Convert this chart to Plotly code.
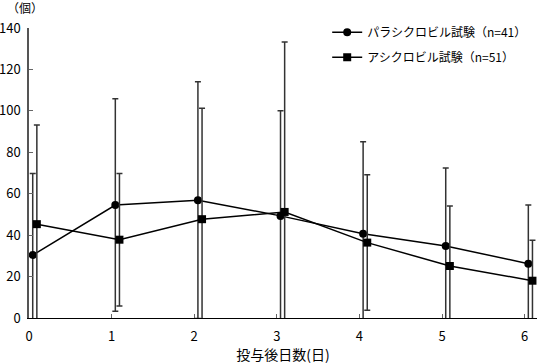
import plotly.graph_objects as go

days = [0, 1, 2, 3, 4, 5, 6]
para_mean = [30.4, 54.5, 56.9, 49.3, 40.7, 34.8, 26.2]
para_sd = [39.4, 51.3, 57.2, 50.7, 44.4, 37.6, 28.3]
acy_mean = [45.3, 37.8, 47.7, 51.2, 36.4, 25.1, 18.0]
acy_sd = [47.9, 32.0, 53.6, 82.0, 32.7, 29.0, 19.5]
para_name = "パラシクロビル試験（n=41）"
acy_name = "アシクロビル試験（n=51）"
x_title = "投与後日数(日)"
y_title = "（個）"

font = "Noto Sans CJK JP"

fig = go.Figure()
fig.add_trace(go.Scatter(
    x=[d + 0.045 for d in days], y=para_mean, name=para_name,
    mode="lines+markers", legendgroup="a",
    line=dict(color="black", width=1.5),
    marker=dict(symbol="circle", size=8, color="black"),
    error_y=dict(type="data", array=para_sd, symmetric=True,
                 color="#333333", thickness=1.5, width=3),
))
fig.add_trace(go.Scatter(
    x=[d + 0.095 for d in days], y=acy_mean, name=acy_name,
    mode="lines+markers", legendgroup="b",
    line=dict(color="black", width=1.5),
    marker=dict(symbol="square", size=8, color="black"),
    error_y=dict(type="data", array=acy_sd, symmetric=True,
                 color="#333333", thickness=1.5, width=3),
))

fig.update_layout(
    width=537, height=364,
    margin=dict(l=29, r=0, t=28, b=46),
    paper_bgcolor="white", plot_bgcolor="white",
    font=dict(family=font, size=12, color="black"),
    showlegend=True,
    legend=dict(x=0.587, y=1.035, xanchor="left", yanchor="top",
                traceorder="grouped", tracegroupgap=6,
                bgcolor="rgba(0,0,0,0)", font=dict(size=12)),
    xaxis=dict(range=[0, 6.15], tickmode="array", tickvals=days,
               ticks="inside", ticklen=4, tickcolor="#666",
               showline=True, linecolor="black", linewidth=1,
               showgrid=False, zeroline=False, automargin=False,
               ticklabelstandoff=6, tickfont=dict(size=13),
               title=dict(text=x_title, standoff=5, font=dict(size=14))),
    yaxis=dict(range=[0, 140], tickmode="array", tickvals=[0, 20, 40, 60, 80, 100, 120, 140],
               ticks="inside", ticklen=4, tickcolor="#666",
               showline=True, linecolor="#555", linewidth=1.5,
               showgrid=False, zeroline=False, automargin=False,
               ticklabelstandoff=4, tickfont=dict(size=13)),
)
fig.add_annotation(text=y_title, xref="paper", yref="paper", x=-0.008, y=1.069,
                   xanchor="center", yanchor="middle",
                   showarrow=False, font=dict(size=12))
fig.write_html("out.html", config={"displayModeBar": False},
               post_script="document.body.style.margin='0';document.body.style.overflow='hidden';")
